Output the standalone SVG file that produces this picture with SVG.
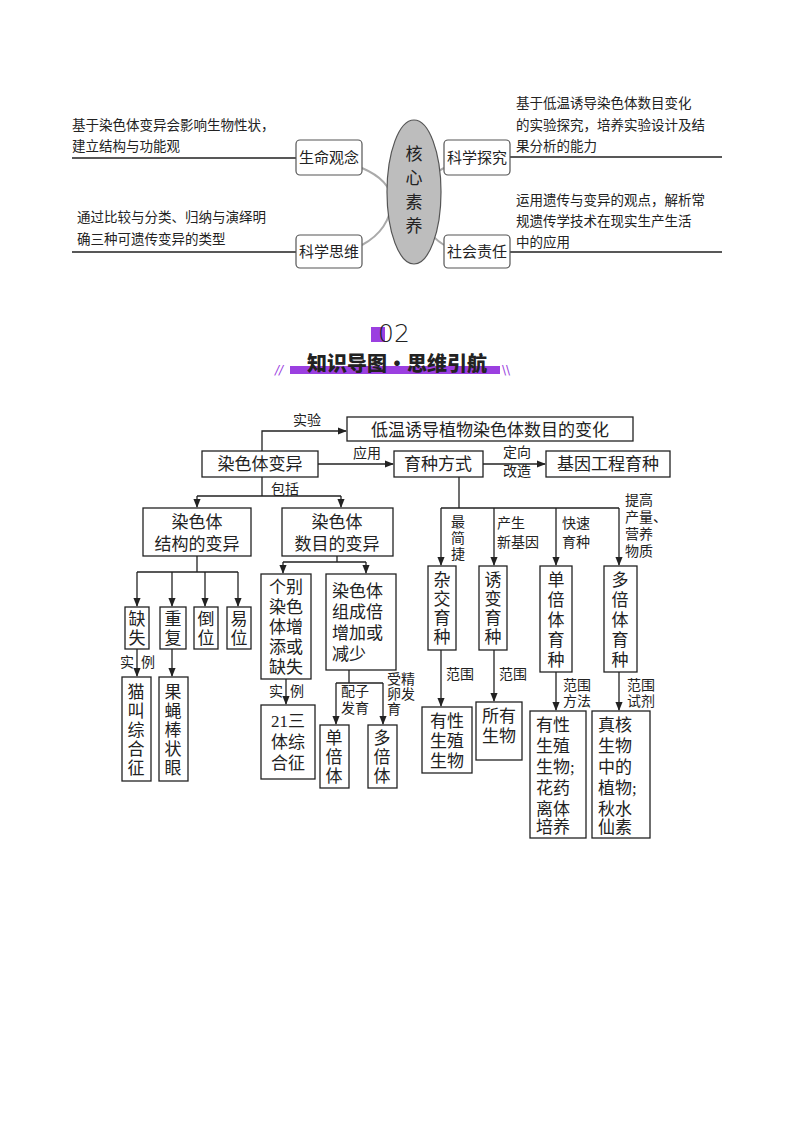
<svg xmlns="http://www.w3.org/2000/svg" width="794" height="1123" viewBox="0 0 794 1123">
<defs>
<marker id="ar" viewBox="0 0 10 10" refX="9" refY="5" markerWidth="7" markerHeight="7" orient="auto"><path d="M0,1 L10,5 L0,9 z" fill="#222"/></marker>
<style>
text{font-family:"Liberation Serif","Noto Sans CJK SC",serif;fill:#222}
.t{font-size:13.5px}
.m{font-size:17px}
.k{font-size:15px}
.s{font-size:14px}
.b{fill:#fff;stroke:#222;stroke-width:1.3}
.rb{fill:#fff;stroke:#555;stroke-width:1.2}
.l{fill:none;stroke:#222;stroke-width:1.3}
.a{fill:none;stroke:#222;stroke-width:1.3;marker-end:url(#ar)}
.c{fill:none;stroke:#aaa;stroke-width:2}
</style>
</defs>
<rect width="794" height="1123" fill="#fff"/>
<g id="core">
<g id="connectors-top">
<path class="l" d="M72,158 H296 M72,252 H296 M510,157 H722 M510,252 H722"/>
<path class="c" d="M362,168 Q390,180 392,200 M362,245 Q390,230 392,200 M444,168 Q420,180 418,200 M444,245 Q420,230 418,200"/>
</g>
<g id="ellipse"><ellipse cx="414" cy="192" rx="27" ry="72" fill="#bdbdbd" stroke="#555" stroke-width="1.2"/>
<text class="m" x="414" y="160" text-anchor="middle">核</text><text class="m" x="414" y="184" text-anchor="middle">心</text><text class="m" x="414" y="208" text-anchor="middle">素</text><text class="m" x="414" y="232" text-anchor="middle">养</text></g>
<g id="n-life"><rect class="rb" x="296" y="140" width="66" height="35" rx="4"/><text class="k" x="329" y="163" text-anchor="middle">生命观念</text></g>
<g id="n-think"><rect class="rb" x="296" y="235" width="66" height="33" rx="4"/><text class="k" x="329" y="257" text-anchor="middle">科学思维</text></g>
<g id="n-explore"><rect class="rb" x="444" y="140" width="66" height="35" rx="4"/><text class="k" x="477" y="163" text-anchor="middle">科学探究</text></g>
<g id="n-social"><rect class="rb" x="444" y="235" width="66" height="33" rx="4"/><text class="k" x="477" y="257" text-anchor="middle">社会责任</text></g>
<g id="texts-top">
<text class="t" x="72" y="130">基于染色体变异会影响生物性状，</text>
<text class="t" x="72" y="151">建立结构与功能观</text>
<text class="t" x="77" y="222">通过比较与分类、归纳与演绎明</text>
<text class="t" x="77" y="244">确三种可遗传变异的类型</text>
<text class="t" x="516" y="108">基于低温诱导染色体数目变化</text>
<text class="t" x="516" y="130">的实验探究，培养实验设计及结</text>
<text class="t" x="516" y="151">果分析的能力</text>
<text class="t" x="516" y="205">运用遗传与变异的观点，解析常</text>
<text class="t" x="516" y="226">规遗传学技术在现实生产生活</text>
<text class="t" x="516" y="247">中的应用</text>
</g>
</g>
<g id="header">
<rect x="371" y="327" width="14" height="15" fill="#9b3fe0"/>
<text x="378" y="342" style="font-family:'DejaVu Sans',sans-serif;font-size:25px;font-weight:300">02</text>
<rect x="290" y="366" width="210" height="8" fill="#9b3fe0"/>
<text x="397" y="371" text-anchor="middle" style="font-family:'Noto Sans CJK SC',sans-serif;font-size:20px;font-weight:900">知识导图·思维引航</text>
<text x="275" y="374" style="font-family:'DejaVu Sans',sans-serif;font-size:12px;fill:#9b3fe0;font-style:italic">//</text>
<text x="502" y="374" style="font-family:'DejaVu Sans',sans-serif;font-size:12px;fill:#9b3fe0">\\</text>
</g>
<g id="connectors">
<path class="a" d="M262,451 V431 H346"/>
<path class="a" d="M318,464 H393"/>
<path class="a" d="M483,464 H545"/>
<path class="l" d="M262,477 V496 M197,496 H341"/>
<path class="a" d="M197,496 V507"/><path class="a" d="M341,496 V507"/>
<path class="l" d="M197,556 V572 M137,572 H238"/>
<path class="a" d="M137,572 V606"/><path class="a" d="M172,572 V606"/><path class="a" d="M205,572 V606"/><path class="a" d="M238,572 V606"/>
<path class="a" d="M137,649 V676"/><path class="a" d="M172,649 V676"/>
<path class="l" d="M337,556 V562 M283,562 H366"/>
<path class="a" d="M283,562 V573"/><path class="a" d="M366,562 V573"/>
<path class="a" d="M286,679 V704"/>
<path class="l" d="M349,670 V683 M336,683 H383"/>
<path class="a" d="M336,683 V724"/><path class="a" d="M383,683 V724"/>
<path class="l" d="M459,477 V508 M441,508 H619"/>
<path class="a" d="M441,508 V565"/><path class="a" d="M494,508 V565"/><path class="a" d="M556,508 V565"/><path class="a" d="M619,508 V565"/>
<path class="a" d="M441,650 V706"/><path class="a" d="M494,650 V701"/><path class="a" d="M556,672 V710"/><path class="a" d="M619,672 V710"/>
</g>
<g id="labels">
<text class="s" x="307" y="425" text-anchor="middle">实验</text>
<text class="s" x="367" y="458" text-anchor="middle">应用</text>
<text class="s" x="517" y="457" text-anchor="middle">定向</text>
<text class="s" x="517" y="476" text-anchor="middle">改造</text>
<text class="s" x="285" y="494" text-anchor="middle">包括</text>
<text class="s" x="120" y="667">实</text><text class="s" x="141" y="667">例</text>
<text class="s" x="269" y="696">实</text><text class="s" x="290" y="696">例</text>
<text class="s" x="341" y="696">配子</text><text class="s" x="341" y="713">发育</text>
<text class="s" x="387" y="684">受精</text><text class="s" x="387" y="699">卵发</text><text class="s" x="387" y="714">育</text>
<text class="s" x="451" y="527">最</text><text class="s" x="451" y="543">简</text><text class="s" x="451" y="559">捷</text>
<text class="s" x="497" y="528">产生</text><text class="s" x="497" y="547">新基因</text>
<text class="s" x="562" y="528">快速</text><text class="s" x="562" y="547">育种</text>
<text class="s" x="625" y="505">提高</text><text class="s" x="625" y="522">产量、</text><text class="s" x="625" y="539">营养</text><text class="s" x="625" y="556">物质</text>
<text class="s" x="446" y="679">范围</text><text class="s" x="499" y="679">范围</text>
<text class="s" x="563" y="690">范围</text><text class="s" x="563" y="706">方法</text>
<text class="s" x="627" y="690">范围</text><text class="s" x="627" y="706">试剂</text>
</g>
<g id="n-exp"><rect class="b" x="347" y="417" width="286" height="24"/><text class="m" x="490" y="436" text-anchor="middle">低温诱导植物染色体数目的变化</text></g>
<g id="n-var"><rect class="b" x="202" y="451" width="116" height="26"/><text class="m" x="260" y="470" text-anchor="middle">染色体变异</text></g>
<g id="n-breed"><rect class="b" x="394" y="451" width="89" height="26"/><text class="m" x="438" y="470" text-anchor="middle">育种方式</text></g>
<g id="n-gene"><rect class="b" x="546" y="451" width="124" height="26"/><text class="m" x="608" y="470" text-anchor="middle">基因工程育种</text></g>
<g id="n-struct"><rect class="b" x="143" y="508" width="108" height="48"/><text class="m" x="197" y="528" text-anchor="middle">染色体</text><text class="m" x="197" y="550" text-anchor="middle">结构的变异</text></g>
<g id="n-num"><rect class="b" x="282" y="508" width="111" height="48"/><text class="m" x="337" y="528" text-anchor="middle">染色体</text><text class="m" x="337" y="550" text-anchor="middle">数目的变异</text></g>
<g id="n-del"><rect class="b" x="125" y="607" width="24" height="42"/><text class="m" x="137" y="625" text-anchor="middle">缺</text><text class="m" x="137" y="644" text-anchor="middle">失</text></g>
<g id="n-dup"><rect class="b" x="160" y="607" width="26" height="42"/><text class="m" x="173" y="625" text-anchor="middle">重</text><text class="m" x="173" y="644" text-anchor="middle">复</text></g>
<g id="n-inv"><rect class="b" x="194" y="607" width="24" height="42"/><text class="m" x="206" y="625" text-anchor="middle">倒</text><text class="m" x="206" y="644" text-anchor="middle">位</text></g>
<g id="n-trans"><rect class="b" x="227" y="607" width="24" height="42"/><text class="m" x="239" y="625" text-anchor="middle">易</text><text class="m" x="239" y="644" text-anchor="middle">位</text></g>
<g id="n-cat"><rect class="b" x="122" y="677" width="29" height="104"/><text class="m" x="136" y="698" text-anchor="middle">猫</text><text class="m" x="136" y="717" text-anchor="middle">叫</text><text class="m" x="136" y="736" text-anchor="middle">综</text><text class="m" x="136" y="755" text-anchor="middle">合</text><text class="m" x="136" y="774" text-anchor="middle">征</text></g>
<g id="n-fly"><rect class="b" x="159" y="677" width="29" height="104"/><text class="m" x="173" y="698" text-anchor="middle">果</text><text class="m" x="173" y="717" text-anchor="middle">蝇</text><text class="m" x="173" y="736" text-anchor="middle">棒</text><text class="m" x="173" y="755" text-anchor="middle">状</text><text class="m" x="173" y="774" text-anchor="middle">眼</text></g>
<g id="n-indiv"><rect class="b" x="261" y="574" width="50" height="105"/><text class="m" x="286" y="593" text-anchor="middle">个别</text><text class="m" x="286" y="613" text-anchor="middle">染色</text><text class="m" x="286" y="633" text-anchor="middle">体增</text><text class="m" x="286" y="653" text-anchor="middle">添或</text><text class="m" x="286" y="673" text-anchor="middle">缺失</text></g>
<g id="n-set"><rect class="b" x="326" y="574" width="70" height="96"/><text class="m" x="332" y="597">染色体</text><text class="m" x="332" y="618">组成倍</text><text class="m" x="332" y="639">增加或</text><text class="m" x="332" y="660">减少</text></g>
<g id="n-21"><rect class="b" x="261" y="705" width="54" height="74"/><text class="m" x="288" y="727" text-anchor="middle">21三</text><text class="m" x="288" y="748" text-anchor="middle">体综</text><text class="m" x="288" y="769" text-anchor="middle">合征</text></g>
<g id="n-hap"><rect class="b" x="320" y="725" width="29" height="63"/><text class="m" x="334" y="744" text-anchor="middle">单</text><text class="m" x="334" y="763" text-anchor="middle">倍</text><text class="m" x="334" y="782" text-anchor="middle">体</text></g>
<g id="n-poly"><rect class="b" x="368" y="725" width="29" height="63"/><text class="m" x="382" y="744" text-anchor="middle">多</text><text class="m" x="382" y="763" text-anchor="middle">倍</text><text class="m" x="382" y="782" text-anchor="middle">体</text></g>
<g id="n-hyb"><rect class="b" x="428" y="566" width="28" height="84"/><text class="m" x="442" y="586" text-anchor="middle">杂</text><text class="m" x="442" y="605" text-anchor="middle">交</text><text class="m" x="442" y="624" text-anchor="middle">育</text><text class="m" x="442" y="643" text-anchor="middle">种</text></g>
<g id="n-mut"><rect class="b" x="479" y="566" width="28" height="84"/><text class="m" x="493" y="586" text-anchor="middle">诱</text><text class="m" x="493" y="605" text-anchor="middle">变</text><text class="m" x="493" y="624" text-anchor="middle">育</text><text class="m" x="493" y="643" text-anchor="middle">种</text></g>
<g id="n-hapb"><rect class="b" x="540" y="566" width="32" height="106"/><text class="m" x="556" y="586" text-anchor="middle">单</text><text class="m" x="556" y="606" text-anchor="middle">倍</text><text class="m" x="556" y="626" text-anchor="middle">体</text><text class="m" x="556" y="646" text-anchor="middle">育</text><text class="m" x="556" y="666" text-anchor="middle">种</text></g>
<g id="n-polyb"><rect class="b" x="604" y="566" width="33" height="106"/><text class="m" x="620" y="586" text-anchor="middle">多</text><text class="m" x="620" y="606" text-anchor="middle">倍</text><text class="m" x="620" y="626" text-anchor="middle">体</text><text class="m" x="620" y="646" text-anchor="middle">育</text><text class="m" x="620" y="666" text-anchor="middle">种</text></g>
<g id="n-r1"><rect class="b" x="422" y="707" width="50" height="66"/><text class="m" x="447" y="727" text-anchor="middle">有性</text><text class="m" x="447" y="747" text-anchor="middle">生殖</text><text class="m" x="447" y="767" text-anchor="middle">生物</text></g>
<g id="n-r2"><rect class="b" x="476" y="702" width="46" height="58"/><text class="m" x="499" y="722" text-anchor="middle">所有</text><text class="m" x="499" y="742" text-anchor="middle">生物</text></g>
<g id="n-r3"><rect class="b" x="530" y="711" width="56" height="127"/><text class="m" x="536" y="731">有性</text><text class="m" x="536" y="752">生殖</text><text class="m" x="536" y="773">生物;</text><text class="m" x="536" y="794">花药</text><text class="m" x="536" y="815">离体</text><text class="m" x="536" y="833">培养</text></g>
<g id="n-r4"><rect class="b" x="592" y="711" width="58" height="127"/><text class="m" x="598" y="731">真核</text><text class="m" x="598" y="752">生物</text><text class="m" x="598" y="773">中的</text><text class="m" x="598" y="794">植物;</text><text class="m" x="598" y="815">秋水</text><text class="m" x="598" y="833">仙素</text></g>
</svg>
